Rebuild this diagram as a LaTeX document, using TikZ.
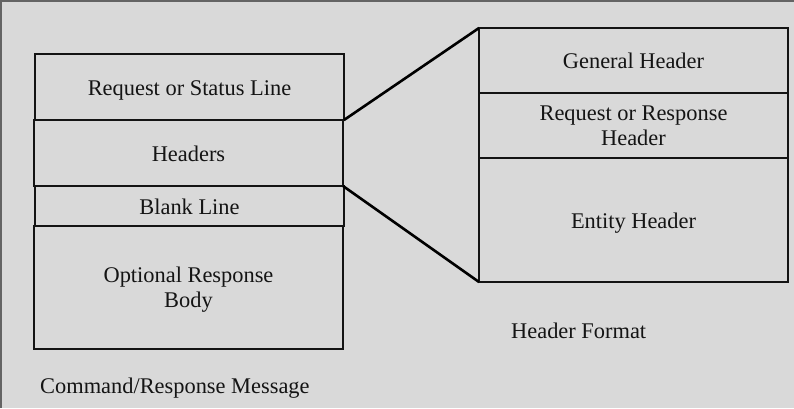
\documentclass[tikz,border=0pt]{standalone}
\usepackage{fontspec}
\setmainfont{Liberation Serif}
\definecolor{bgc}{HTML}{D9D9D9}
\definecolor{frm}{HTML}{646464}
\definecolor{ink}{HTML}{141414}
\newcommand{\topstrut}{\rule{0pt}{19.5pt}}
\newcommand{\botstrut}{\rule[-4pt]{0pt}{4pt}}
\begin{document}
\begin{tikzpicture}[x=1pt,y=-1pt,
  box/.style={draw=ink,line width=1.1pt,rectangle,inner sep=0pt,outer sep=0pt,
    align=center,text=ink,font=\fontsize{22.4}{25}\selectfont},
  onebox/.style={box,text height=19.5pt,text depth=3.5pt},
  lbl/.style={inner sep=0pt,text=ink,font=\fontsize{22.4}{25}\selectfont},
  link/.style={draw=black,line width=2.6pt}]
\fill[bgc] (0,0) rectangle (794,408);
\useasboundingbox (0,0) rectangle (794,408);
\draw[frm,line width=1.6pt] (0.8,408) -- (0.8,0.8) -- (794,0.8);
% left stack
\node[onebox,minimum width=309pt,minimum height=66pt] (rsl) at (189.5,87) {Request or Status Line};
\node[onebox,minimum width=309pt,minimum height=66pt] (hdr) at (188.5,153) {Headers};
\node[onebox,minimum width=309pt,minimum height=40pt] (blk) at (189.5,206) {Blank Line};
\node[box,minimum width=309pt,minimum height=123pt] (body) at (188.5,287.5) {\topstrut Optional Response\\Body\botstrut};
% right stack
\node[onebox,minimum width=309pt,minimum height=65pt] (gen) at (633.5,60.5) {General Header};
\node[box,minimum width=309pt,minimum height=65pt] (req) at (633.5,125.5) {\topstrut Request or Response\\Header\botstrut};
\node[onebox,minimum width=309pt,minimum height=124pt] (ent) at (633.5,220) {Entity Header};
% connectors
\draw[link] (rsl.south east) -- (gen.north west);
\draw[link] (hdr.south east) -- (ent.south west);
% captions
\node[lbl,anchor=base west] (cap1) at (40,393) {Command/Response Message};
\node[lbl,anchor=base west] (cap2) at (511,338) {Header Format};
\end{tikzpicture}
\end{document}
